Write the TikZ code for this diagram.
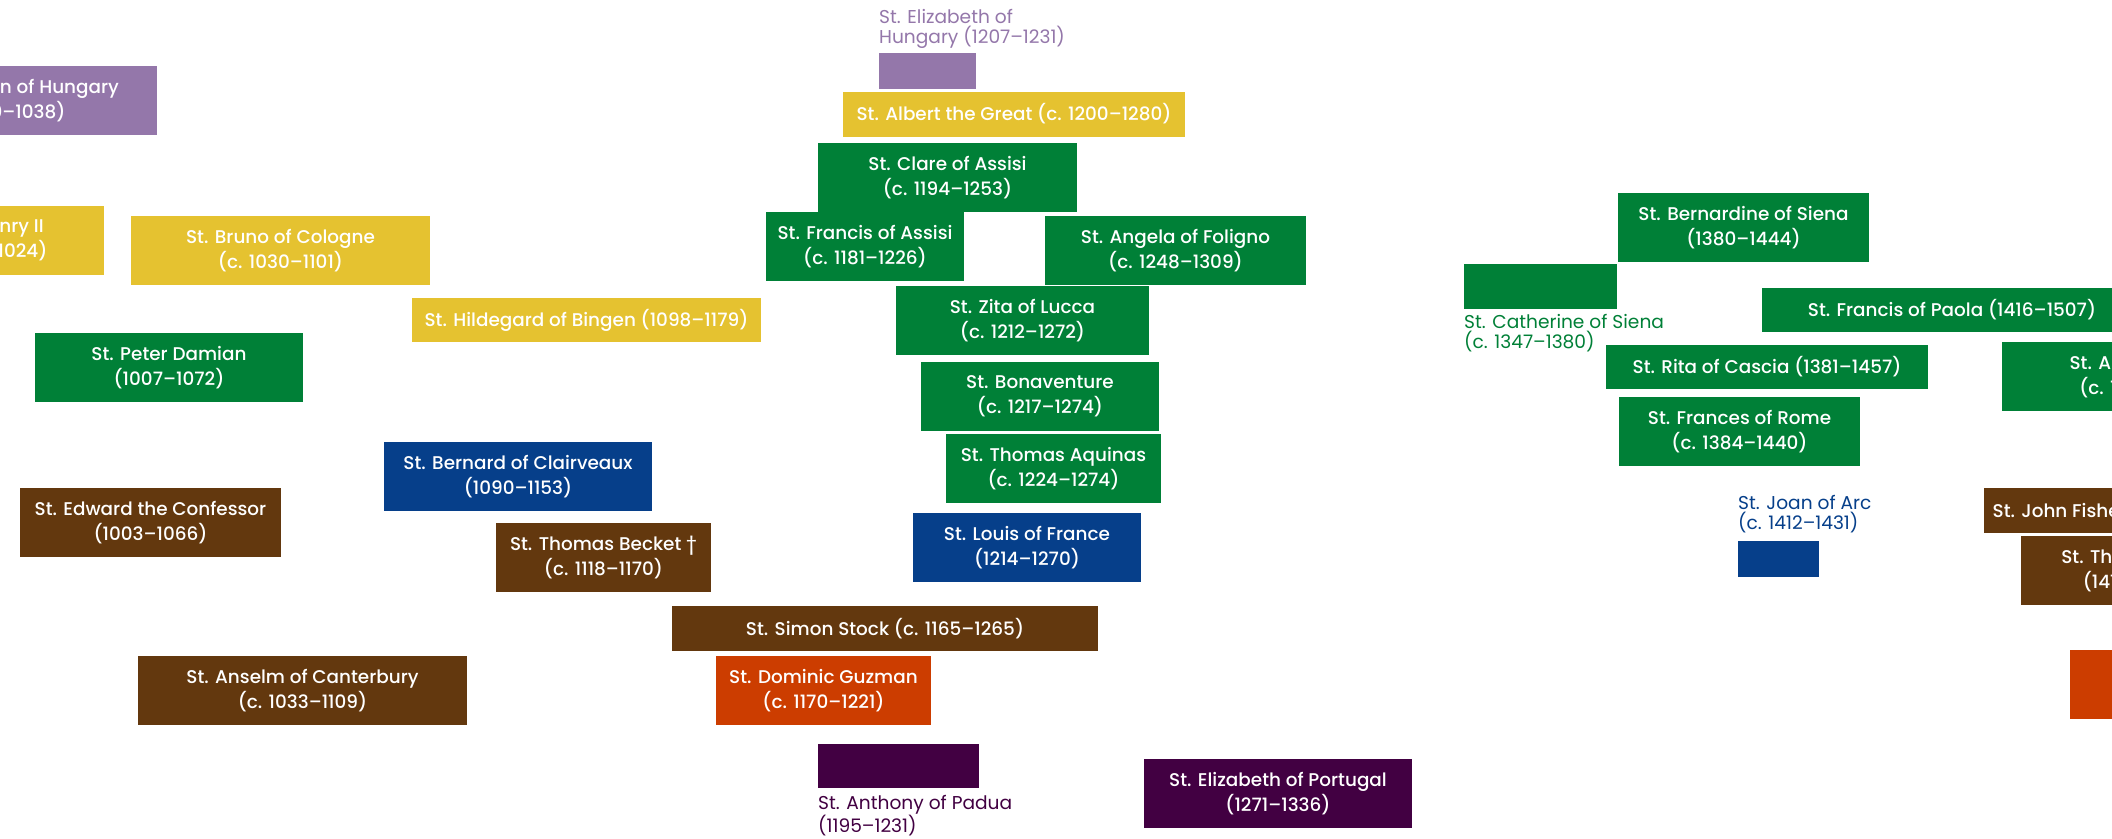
\documentclass[tikz,border=0pt]{standalone}
\usepackage{fontspec}
\setmainfont{Poppins}
\newfontfamily\medfont{Poppins Medium}
\definecolor{lpurple}{HTML}{9477AA}
\definecolor{syellow}{HTML}{E5C230}
\definecolor{sgreen}{HTML}{008037}
\definecolor{sblue}{HTML}{063F8A}
\definecolor{sbrown}{HTML}{63380E}
\definecolor{sorange}{HTML}{CC3D00}
\definecolor{dpurple}{HTML}{420042}
\tikzset{
  saint/.style={rectangle, inner sep=0pt, align=center, text=white, font=\medfont\fontsize{18.4}{25}\selectfont},
  twoline/.style={minimum height=69},
  oneline/.style={minimum height=45},
  lab/.style={anchor=north west, inner sep=0pt, align=left, font=\fontsize{18.6}{20}\selectfont},
}
\begin{document}
\begin{tikzpicture}[x=1pt,y=-1pt]
\fill[white] (0,0) rectangle (2112,838);
\clip (0,0) rectangle (2112,838);
% left part
\node[saint, twoline, fill=lpurple, minimum width=289] (stephen) at (12.5,100.5) {St. Stephen of Hungary\\(970–1038)};
\node[saint, twoline, fill=syellow, minimum width=218] (henry) at (-5,240.5) {St. Henry II\\(973–1024)};
\node[saint, twoline, fill=syellow, minimum width=299] (bruno) at (280.5,250.5) {St. Bruno of Cologne\\(c. 1030–1101)};
\node[saint, oneline, fill=syellow, minimum width=349, minimum height=44] (hildegard) at (586.5,320) {St. Hildegard of Bingen (1098–1179)};
\node[saint, twoline, fill=sgreen, minimum width=268] (peter) at (169,367.5) {St. Peter Damian\\(1007–1072)};
\node[saint, twoline, fill=sblue, minimum width=268] (bernard) at (518,476.5) {St. Bernard of Clairveaux\\(1090–1153)};
\node[saint, twoline, fill=sbrown, minimum width=261] (edward) at (150.5,522.5) {St. Edward the Confessor\\(1003–1066)};
\node[saint, twoline, fill=sbrown, minimum width=215] (becket) at (603.5,557.5) {St. Thomas Becket †\\(c. 1118–1170)};
\node[saint, twoline, fill=sbrown, minimum width=329] (anselm) at (302.5,690.5) {St. Anselm of Canterbury\\(c. 1033–1109)};
\node[saint, oneline, fill=sbrown, minimum width=426] (simon) at (885,628.5) {St. Simon Stock (c. 1165–1265)};
\node[saint, twoline, fill=sorange, minimum width=215] (dominic) at (823.5,690.5) {St. Dominic Guzman\\(c. 1170–1221)};
\node[saint, fill=dpurple, minimum width=161, minimum height=44] (anthony) at (898.5,766) {};
\node[lab, text=dpurple] (anthonylab) at (818,795) {St. Anthony of Padua\\(1195–1231)};
\node[saint, twoline, fill=dpurple, minimum width=268] (elizport) at (1278,793.5) {St. Elizabeth of Portugal\\(1271–1336)};
% centre column
\node[saint, fill=lpurple, minimum width=97, minimum height=36] (elizhung) at (927.5,71) {};
\node[lab, text=lpurple] (elizhunglab) at (879,9) {St. Elizabeth of\\Hungary (1207–1231)};
\node[saint, oneline, fill=syellow, minimum width=342] (albert) at (1014,114) {St. Albert the Great (c. 1200–1280)};
\node[saint, twoline, fill=sgreen, minimum width=259] (clare) at (947.5,177.5) {St. Clare of Assisi\\(c. 1194–1253)};
\node[saint, twoline, fill=sgreen, minimum width=198] (francis) at (865,246.5) {St. Francis of Assisi\\(c. 1181–1226)};
\node[saint, twoline, fill=sgreen, minimum width=261] (angela) at (1175.5,250.5) {St. Angela of Foligno\\(c. 1248–1309)};
\node[saint, twoline, fill=sgreen, minimum width=253] (zita) at (1022.5,320.5) {St. Zita of Lucca\\(c. 1212–1272)};
\node[saint, twoline, fill=sgreen, minimum width=238] (bonaventure) at (1040,396.5) {St. Bonaventure\\(c. 1217–1274)};
\node[saint, twoline, fill=sgreen, minimum width=215] (aquinas) at (1053.5,468.5) {St. Thomas Aquinas\\(c. 1224–1274)};
\node[saint, twoline, fill=sblue, minimum width=228] (louis) at (1027,547.5) {St. Louis of France\\(1214–1270)};
% right part
\node[saint, twoline, fill=sgreen, minimum width=251] (bernardine) at (1743.5,227.5) {St. Bernardine of Siena\\(1380–1444)};
\node[saint, oneline, fill=sgreen, minimum width=153] (catherine) at (1540.5,286.5) {};
\node[lab, text=sgreen] (catherinelab) at (1464,314) {St. Catherine of Siena\\(c. 1347–1380)};
\node[saint, oneline, fill=sgreen, minimum width=380, minimum height=44] (paola) at (1952,310) {St. Francis of Paola (1416–1507)};
\node[saint, oneline, fill=sgreen, minimum width=322, minimum height=44] (rita) at (1767,367) {St. Rita of Cascia (1381–1457)};
\node[saint, twoline, fill=sgreen, minimum width=290] (merici) at (2147,376.5) {St. Angela Merici\\(c. 1474–1540)};
\node[saint, twoline, fill=sgreen, minimum width=241] (frances) at (1739.5,431.5) {St. Frances of Rome\\(c. 1384–1440)};
\node[saint, fill=sblue, minimum width=81, minimum height=36] (joan) at (1778.5,559) {};
\node[lab, text=sblue] (joanlab) at (1738,495) {St. Joan of Arc\\(c. 1412–1431)};
\node[saint, oneline, fill=sbrown, minimum width=270] (fisher) at (2119,510.5) {St. John Fisher (1469–1535)};
\node[saint, twoline, fill=sbrown, minimum width=236] (more) at (2139,570.5) {St. Thomas More\\(1478–1535)};
\node[saint, twoline, fill=sorange, minimum width=240] (orangebox) at (2190,684.5) {};
\end{tikzpicture}
\end{document}
